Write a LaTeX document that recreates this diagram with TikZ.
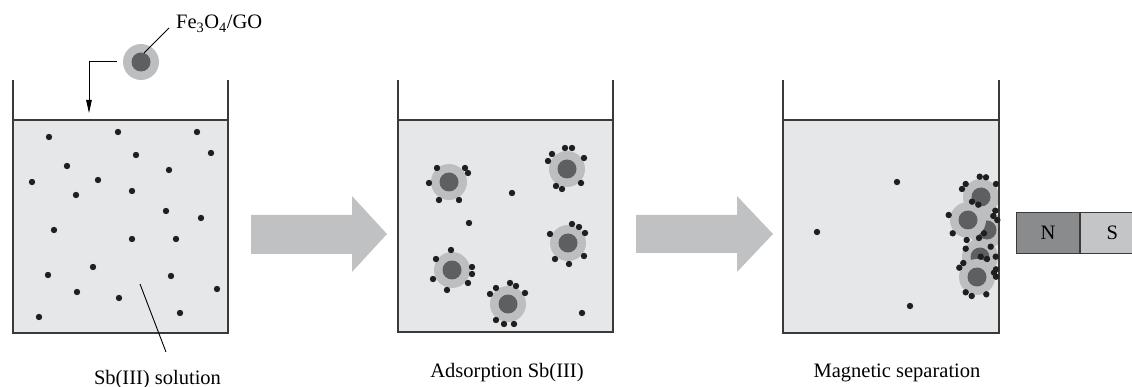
\documentclass[tikz,border=0pt]{standalone}
\usepackage{fontspec}
\setmainfont{Liberation Serif}
\usetikzlibrary{arrows.meta}

\definecolor{liquid}{HTML}{E6E7E8}
\definecolor{ringgray}{HTML}{BDBEC0}
\definecolor{coregray}{HTML}{5E5F61}
\definecolor{arrowgray}{HTML}{C0C1C3}
\definecolor{wallgray}{HTML}{3A3A3A}
\definecolor{northgray}{HTML}{8A8B8D}
\definecolor{southgray}{HTML}{C4C5C7}

% one Fe3O4/GO particle: grey GO shell round a dark magnetite core
\newcommand{\magparticle}[1]{%
  \fill[ringgray] (#1) circle (18pt);
  \fill[coregray] (#1) circle (9.5pt);}
% one Sb(III) ion
\newcommand{\sbion}[1]{\fill[ion] (#1) circle (3.2pt);}

\tikzset{
  wall/.style={draw=wallgray, line width=1.2pt},
  water/.style={fill=liquid, draw=wallgray, line width=1.2pt},
  ion/.style={black!88},
  label/.style={font=\fontsize{20.5}{24}\selectfont, inner sep=0pt, anchor=base},
  pointer/.style={draw=black, line width=0.9pt},
  flowarrow/.style={fill=arrowgray},
  pole/.style={draw=wallgray, line width=1.2pt, minimum width=63pt,
    minimum height=41pt, inner sep=0pt, font=\fontsize{20.5}{24}\selectfont},
}

\begin{document}
\begin{tikzpicture}[x=1pt,y=-1pt]
\useasboundingbox (0,0) rectangle (1132,387);

% ---------- beaker 1: Sb(III) solution ----------
\draw[wall] (13,80) -- (13,120) (228,80) -- (228,120);
\draw[water] (13,120) rectangle (228,333);
\foreach \p in {(49,137),(118,132),(197,132),(136,155),(211,153),(67,166),
  (169,170),(32,182),(98,180),(76,195),(132,191),(166,211),(201,218),(54,230),
  (132,239),(176,239),(93,267),(48,275),(171,276),(77,292),(119,298),(217,289),
  (180,313),(39,317)}
  {\fill[ion] \p circle (3.2pt);}

% particle being added
\coordinate (feo) at (141,62);
\magparticle{feo}
\node[label, anchor=base west] (feolbl) at (176,29) {Fe\textsubscript{3}O\textsubscript{4}/GO};
\coordinate (feotip) at (169,28);
\coordinate (feocore) at (144,53);
\draw[pointer] (feocore) -- (feotip);
\coordinate (dropstart) at (117,61);
\coordinate (dropbend) at (89,61);
\coordinate (dropend) at (89,113);
\draw[pointer, -{Triangle[length=13pt,width=5.5pt]}] (dropstart) -- (dropbend) -- (dropend);

% solution label
\node[label] (sollbl) at (157.5,384) {Sb(III) solution};
\coordinate (solin) at (140,284);
\coordinate (solout) at (166,352);
\draw[pointer] (solin) -- (solout);

% ---------- process arrow 1 ----------
\fill[flowarrow] (251,215) -- (352,215) -- (352,196) -- (387,234) -- (352,272)
  -- (352,254) -- (251,254) -- cycle;

% ---------- beaker 2: adsorption ----------
\draw[wall] (398,80) -- (398,120) (613,80) -- (613,120);
\draw[water] (398,120) rectangle (613,332);
\foreach \c in {(449,182),(567,169),(568,243),(452,270),(508,304)}
  {\fill[ringgray] \c circle (18pt); \fill[coregray] \c circle (9.5pt);}
\foreach \p in {(437,168),(465,168),(468,173),(429,183),(439,200),(459,200),
  (565,148),(572,148),(552,154),(548,161),(584,158),(556,186),(562,189),(581,183),
  (512,193),(469,223),(582,313),
  (572,224),(579,227),(585,233),(550,234),(584,256),(555,259),(569,264),
  (451,250),(436,259),(472,267),(472,274),(433,279),(468,283),(447,290),
  (510,283),(516,286),(496,288),(490,294),(525,293),(496,320),(504,324),(514,324)}
  {\fill[ion] \p circle (3.2pt);}
\node[label] (adslbl) at (507,377) {Adsorption Sb(III)};

% ---------- process arrow 2 ----------
\fill[flowarrow] (636,215) -- (737,215) -- (737,196) -- (773,234) -- (737,272)
  -- (737,253) -- (636,253) -- cycle;

% ---------- beaker 3: magnetic separation ----------
\draw[wall] (783,80) -- (783,120) (999,80) -- (999,120);
\fill[liquid] (783,120) rectangle (999,333);
\begin{scope}
  \clip (783,120) rectangle (999,333);
  \foreach \c in {(987,230),(980,257),(981,197),(968,220),(977,277)}
    {\fill[ringgray] \c circle (18pt); \fill[coregray] \c circle (9.5pt);}
\end{scope}
\draw[wall] (783,120) rectangle (999,333);
\foreach \p in {(897,182),(817,232),(910,306),
  (979.7,176.7),(986,177.3),(965.7,184),(962,189),(996,184),(972,201.7),
  (978.3,204.7),(948.7,215),(995.3,210.7),(993.3,216),(997.3,220),(984,233.3),
  (952.7,233.3),(966.7,240),(979,238),(965.7,248.7),(990.7,246.7),(995.7,256.7),
  (980.7,256.7),(987,259),(963.3,263),(959.3,267.7),(996,269.3),(994,272.7),
  (996,276.7),(965.7,292.3),(971.7,296),(986.3,294.3)}
  {\fill[ion] \p circle (3.2pt);}
\node[label] (maglbl) at (897,377) {Magnetic separation};

% ---------- bar magnet ----------
\node[pole, fill=northgray, anchor=north west] (north) at (1016,212) {N};
\node[pole, fill=southgray, anchor=north west] (south) at (north.north east) {S};
\end{tikzpicture}
\end{document}
